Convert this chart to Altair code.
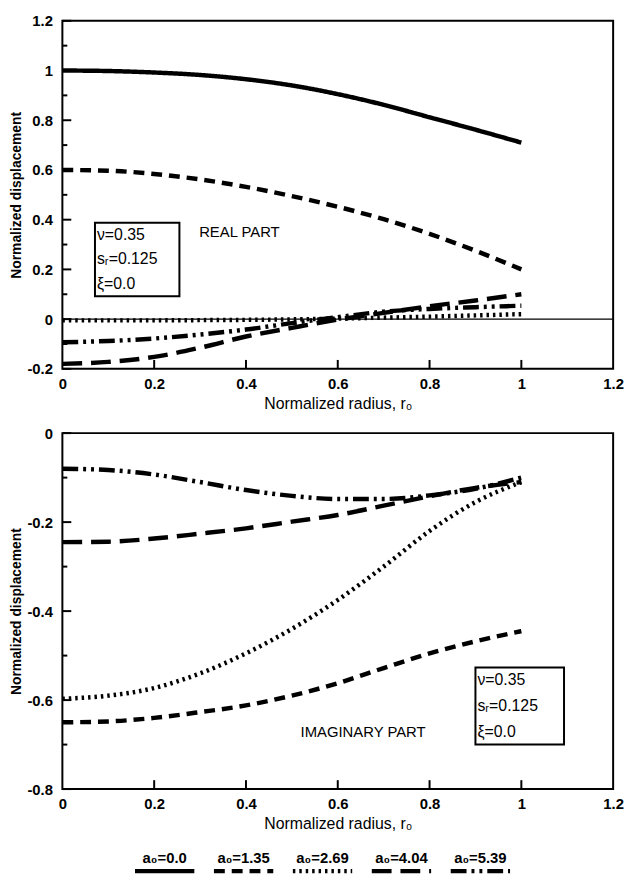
import altair as alt
import pandas as pd

# ---------------- data ----------------
r = [0.0, 0.1, 0.2, 0.3, 0.4, 0.5, 0.6, 0.7, 0.8, 0.9, 1.0]
labels = ["a₀=0.0", "a₀=1.35", "a₀=2.69", "a₀=4.04", "a₀=5.39"]

real_a000 = [1.0, 0.998, 0.992, 0.982, 0.965, 0.94, 0.905, 0.862, 0.812, 0.762, 0.71]
real_a135 = [0.60, 0.597, 0.584, 0.562, 0.532, 0.495, 0.452, 0.402, 0.343, 0.275, 0.20]
real_a269 = [-0.005, -0.005, -0.005, -0.004, -0.003, -0.001, 0.002, 0.006, 0.010, 0.015, 0.020]
real_a404 = [-0.18, -0.172, -0.152, -0.115, -0.07, -0.035, -0.002, 0.025, 0.052, 0.075, 0.10]
real_a539 = [-0.093, -0.088, -0.078, -0.062, -0.042, -0.016, 0.008, 0.030, 0.041, 0.048, 0.054]

imag_a000 = [None] * 11
imag_a135 = [-0.65, -0.648, -0.64, -0.627, -0.612, -0.59, -0.562, -0.528, -0.495, -0.468, -0.445]
imag_a269 = [-0.597, -0.59, -0.573, -0.54, -0.495, -0.44, -0.375, -0.30, -0.22, -0.155, -0.11]
imag_a404 = [-0.245, -0.244, -0.237, -0.226, -0.214, -0.199, -0.184, -0.163, -0.142, -0.123, -0.11]
imag_a539 = [-0.08, -0.083, -0.093, -0.11, -0.128, -0.141, -0.148, -0.148, -0.14, -0.125, -0.10]

x_ticks = [0.0, 0.2, 0.4, 0.6, 0.8, 1.0, 1.2]
x_inner_ticks = [0.2, 0.4, 0.6, 0.8, 1.0]
y_major_real = [-0.2, 0.0, 0.2, 0.4, 0.6, 0.8, 1.0, 1.2]
y_minor_real = [-0.1, 0.1, 0.3, 0.5, 0.7, 0.9, 1.1]
y_major_imag = [-0.8, -0.6, -0.4, -0.2, 0.0]
y_minor_imag = [-0.7, -0.5, -0.3, -0.1]

params_lines = ["ν=0.35", "sᵣ=0.125", "ξ=0.0"]

# ---------------- styling ----------------
FONT = "Liberation Sans"
PW = 557
dash_range = [[1, 0], [11, 7], [2.5, 4], [20, 9], [16, 5, 3, 5, 3, 5]]
width_range = [4.5, 4.5, 3.5, 4.5, 4.5]
LABEL_EXPR = "(datum.value < 0 ? '-' : '') + format(abs(datum.value), '~g')"
FRAME = alt.ViewConfig(stroke="black", strokeWidth=2)


def to_long(series):
    rows = []
    for lab, vals in zip(labels, series):
        for x, v in zip(r, vals):
            if v is not None:
                rows.append({"r": x, "v": v, "series": lab})
    return pd.DataFrame(rows)


def panel(series, ydom, ymaj, ymin_, box, text_lines, part_label, part_pos, height, zero_line):
    df = to_long(series)
    xaxis = alt.Axis(values=x_ticks, labelExpr=LABEL_EXPR, ticks=False, domain=False, grid=False,
                     labelFlush=False, labelPadding=8, labelFontSize=15, labelFontWeight="bold",
                     labelFont=FONT, labelColor="black", title="Normalized radius, r₀",
                     titleFont=FONT, titleFontSize=16, titleFontWeight="normal",
                     titleColor="black", titlePadding=4)
    yaxis = alt.Axis(values=ymaj, labelExpr=LABEL_EXPR, ticks=False, domain=False, grid=False,
                     labelFlush=False, labelPadding=10, labelFontSize=15, labelFontWeight="bold",
                     labelFont=FONT, labelColor="black", title="Normalized displacement",
                     titleFont=FONT, titleFontSize=14, titleFontWeight="bold",
                     titleColor="black", titlePadding=4)
    xs = alt.Scale(domain=[0, 1.2], nice=False, zero=False)
    ys = alt.Scale(domain=ydom, nice=False, zero=False)

    lines = alt.Chart(df).mark_line(interpolate="monotone", color="black").encode(
        x=alt.X("r:Q", scale=xs, axis=xaxis),
        y=alt.Y("v:Q", scale=ys, axis=yaxis),
        strokeDash=alt.StrokeDash("series:N", scale=alt.Scale(domain=labels, range=dash_range),
                                  legend=None),
        strokeWidth=alt.StrokeWidth("series:N", scale=alt.Scale(domain=labels, range=width_range),
                                    legend=None),
        detail="series:N",
    )
    layers = [lines]
    # inward ticks
    layers.append(alt.Chart(pd.DataFrame({"t": ymaj})).mark_rule(
        color="black", strokeWidth=2, x2Offset=9).encode(
        y="t:Q", x=alt.datum(0), x2=alt.datum(0)))
    layers.append(alt.Chart(pd.DataFrame({"t": ymin_})).mark_rule(
        color="black", strokeWidth=2, x2Offset=5).encode(
        y="t:Q", x=alt.datum(0), x2=alt.datum(0)))
    layers.append(alt.Chart(pd.DataFrame({"t": x_inner_ticks})).mark_rule(
        color="black", strokeWidth=2, y2Offset=-9).encode(
        x="t:Q", y=alt.datum(ydom[0]), y2=alt.datum(ydom[0])))
    if zero_line:
        layers.append(alt.Chart(pd.DataFrame({"z": [0.0]})).mark_rule(
            color="black", strokeWidth=1.5).encode(y="z:Q"))
    bx0, bx1, by0, by1 = box
    layers.append(alt.Chart(pd.DataFrame({"a": [0]})).mark_rect(
        fillOpacity=0, stroke="black", strokeWidth=2).encode(
        x=alt.datum(bx0), x2=alt.datum(bx1), y=alt.datum(by0), y2=alt.datum(by1)))
    step = (by0 - by1) / 3.0
    for i, t in enumerate(text_lines):
        layers.append(alt.Chart(pd.DataFrame({"t": [t]})).mark_text(
            align="left", baseline="middle", font=FONT, fontSize=16, color="black", dx=2).encode(
            x=alt.datum(bx0), y=alt.datum(by0 - step * (i + 0.5)), text="t:N"))
    layers.append(alt.Chart(pd.DataFrame({"t": [part_label]})).mark_text(
        align="left", baseline="middle", font=FONT, fontSize=15, color="black").encode(
        x=alt.datum(part_pos[0]), y=alt.datum(part_pos[1]), text="t:N"))
    return alt.layer(*layers).properties(width=PW, height=height, view=FRAME)


top = panel([real_a000, real_a135, real_a269, real_a404, real_a539], [-0.2, 1.2],
            y_major_real, y_minor_real,
            (0.071, 0.255, 0.388, 0.092), params_lines, "REAL PART", (0.298, 0.352), 352, True)
bottom = panel([imag_a000, imag_a135, imag_a269, imag_a404, imag_a539], [-0.8, 0.0],
               y_major_imag, y_minor_imag,
               (0.90, 1.093, -0.527, -0.70), params_lines, "IMAGINARY PART", (0.519, -0.671), 360,
               False)

# custom legend: label above a line sample
leg_df = pd.DataFrame({"series": labels, "idx": list(range(len(labels)))})
leg_x = alt.Scale(domain=[-1.296, 5.682], nice=False, zero=False)
leg_text = alt.Chart(leg_df).mark_text(font=FONT, fontSize=15, fontWeight="bold",
                                       color="black", baseline="middle").encode(
    x=alt.X("idx:Q", scale=leg_x, axis=None), y=alt.value(5), text="series:N")
leg_line = alt.Chart(leg_df).mark_rule(color="black", xOffset=-30, x2Offset=30).encode(
    x=alt.X("idx:Q", scale=leg_x, axis=None), x2="idx:Q", y=alt.value(18),
    strokeDash=alt.StrokeDash("series:N", scale=alt.Scale(domain=labels, range=dash_range),
                              legend=None),
    strokeWidth=alt.StrokeWidth("series:N", scale=alt.Scale(domain=labels, range=width_range),
                                legend=None),
)
legend = alt.layer(leg_text, leg_line).properties(
    width=PW, height=20, view=alt.ViewConfig(stroke="transparent", strokeWidth=0))

plots = alt.vconcat(top, bottom, spacing=13)
chart = alt.vconcat(plots, legend, spacing=19).properties(
    padding={"left": 0, "top": 0, "right": 0, "bottom": 0}
).configure(background="white")

chart.save("out.html", embed_options={"renderer": "svg", "actions": False})
